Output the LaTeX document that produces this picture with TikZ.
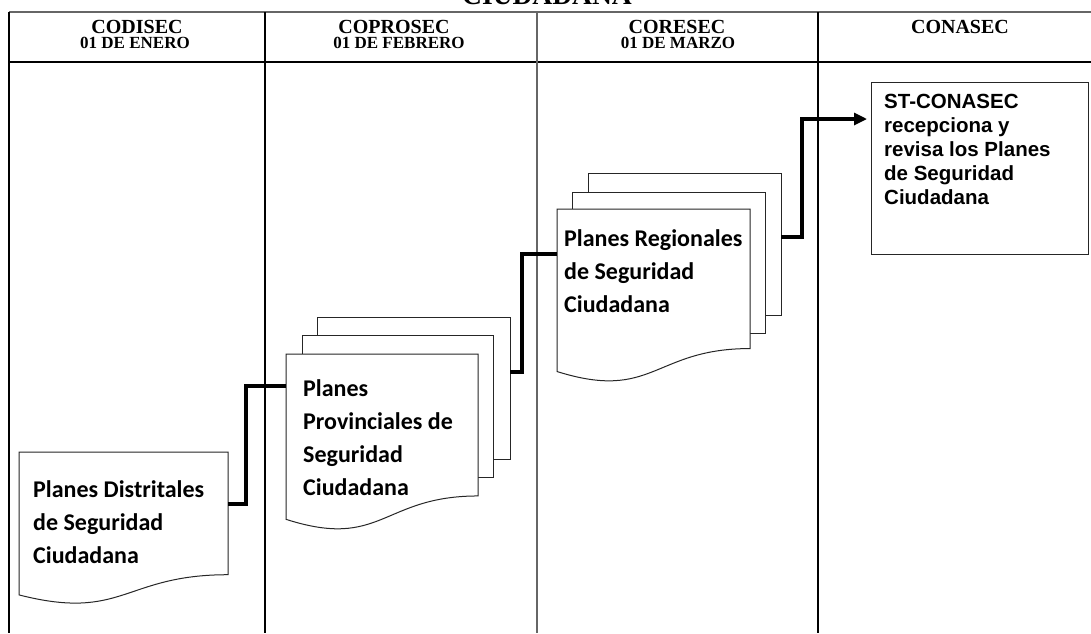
\documentclass[tikz,border=0pt]{standalone}
\usepackage{fontspec}
\newfontfamily\hdrfont{Liberation Serif}
\newfontfamily\calfont{Carlito}
\newfontfamily\arfont{Liberation Sans}
\usetikzlibrary{arrows.meta,calc}
\newcommand\docoutline[1]{%
  \draw[sheet] (#1.north west) -- (#1.north east)
    -- ($(#1.north east)!0.802!(#1.south east)$)
    .. controls ($(#1.north)!0.802!(#1.south)$) and ($(#1.north)!1.108!(#1.south)$)
    .. ($(#1.north west)!0.934!(#1.south west)$) -- cycle;}
\begin{document}
\begin{tikzpicture}[x=1pt,y=-1pt,
  frame/.style={line width=2.4pt,black},
  thinframe/.style={line width=1.1pt,black!60},
  sheet/.style={draw=black!85,line width=1pt,fill=white},
  sheetbox/.style={sheet,anchor=north west,inner sep=0,outer sep=0},
  docarea/.style={anchor=north west,inner sep=0,outer sep=0},
  conn/.style={line width=3.1pt,black,line join=miter},
  hdr/.style={font=\hdrfont\bfseries\fontsize{20}{22}\selectfont,anchor=base,inner sep=0},
  hdrdate/.style={font=\hdrfont\bfseries\fontsize{17}{20}\selectfont,anchor=base,inner sep=0},
  doctext/.style={font=\calfont\bfseries\fontsize{24}{33.3}\selectfont,anchor=base west,inner sep=0},
  sttext/.style={font=\arfont\bfseries\fontsize{20.5}{24.2}\selectfont,anchor=base west,inner sep=0}
]
\useasboundingbox (0,0) rectangle (1091,633);
\fill[white] (0,0) rectangle (1091,633);

% title (cut off at top)
\node[font=\hdrfont\bfseries\fontsize{27.5}{30}\selectfont,anchor=base,inner sep=0] (title) at (547,4) {CIUDADANA};

% table frame
\draw[thinframe] (9,12) -- (1091,12);
\draw[frame] (9,62) -- (1091,62);
\draw[frame] (9,12) -- (9,633);
\draw[frame] (265,12) -- (265,633);
\draw[thinframe] (537,12) -- (537,633);
\draw[frame] (818,12) -- (818,633);

% headers
\node[hdr] (h1) at (137,33.5) {CODISEC};
\node[hdrdate] (h1d) at (135,48.5) {01 DE ENERO};
\node[hdr] (h2) at (394,33.5) {COPROSEC};
\node[hdrdate] (h2d) at (399,48.5) {01 DE FEBRERO};
\node[hdr] (h3) at (677,33.5) {CORESEC};
\node[hdrdate] (h3d) at (678,48.5) {01 DE MARZO};
\node[hdr] (h4) at (960,33.5) {CONASEC};

% distritales
\node[docarea,minimum width=209,minimum height=153] (d1) at (19,452) {};
\docoutline{d1}
\node[doctext] (d1t) at (33,497) {\begin{tabular}[t]{@{}l@{}}Planes Distritales\\de Seguridad\\Ciudadana\end{tabular}};

% provinciales
\node[sheetbox,minimum width=193,minimum height=142] (p3) at (317,317) {};
\node[sheetbox,minimum width=191,minimum height=142] (p2) at (302,335) {};
\node[docarea,minimum width=192,minimum height=177] (p1) at (286,354) {};
\docoutline{p1}
\node[doctext] (p1t) at (303,396) {\begin{tabular}[t]{@{}l@{}}Planes\\Provinciales de\\Seguridad\\Ciudadana\end{tabular}};

% regionales
\node[sheetbox,minimum width=193,minimum height=142] (r3) at (588,173) {};
\node[sheetbox,minimum width=193,minimum height=141] (r2) at (572,192) {};
\node[docarea,minimum width=193,minimum height=174] (r1) at (557,209) {};
\docoutline{r1}
\node[doctext] (r1t) at (564,246) {\begin{tabular}[t]{@{}l@{}}Planes Regionales\\de Seguridad\\Ciudadana\end{tabular}};

% ST-CONASEC
\node[draw=black!85,line width=1pt,anchor=north west,minimum width=217,minimum height=172,inner sep=0] (st) at (871,82) {};
\node[sttext] (stt) at (884,108) {\begin{tabular}[t]{@{}l@{}}ST-CONASEC\\recepciona y\\revisa los Planes\\de Seguridad\\Ciudadana\end{tabular}};

% connectors
\draw[conn] ($(d1.north east)+(0,52)$) -- ++(18,0) |- ($(p1.north west)+(0,32)$);
\draw[conn] ($(p3.north east)+(0,55)$) -- ++(12,0) |- ($(r1.north west)+(0,45)$);
\draw[conn,-{Triangle[length=13pt,width=12pt]},shorten >=4pt] ($(r3.north east)+(0,64)$) -- ++(21,0) |- ($(st.north west)+(0,37)$);
\end{tikzpicture}
\end{document}
